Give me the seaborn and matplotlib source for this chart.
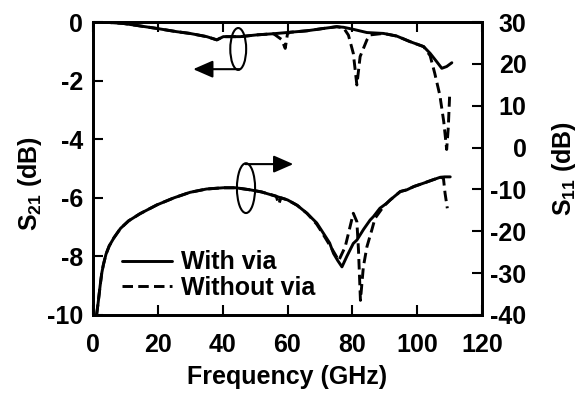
import numpy as np
import pandas as pd
import matplotlib
matplotlib.use("Agg")
import matplotlib.pyplot as plt
import seaborn as sns
from matplotlib.patches import Ellipse

# ---------------- data ----------------
# S21 with via (left axis, dB)
s21_via_f = [2.7, 9.4, 19.7, 25.8, 29.9, 35.1, 38.2, 40.2, 45.4, 50.5, 55.7, 60.8,
             66.0, 71.1, 75.2, 77.3, 80.3, 84.5, 89.6, 93.7, 97.8, 102.0, 104.0,
             106.0, 107.6, 109.1, 110.7]
s21_via_db = [0.0, -0.05, -0.22, -0.33, -0.39, -0.50, -0.61, -0.50, -0.50, -0.44, -0.40,
              -0.35, -0.30, -0.22, -0.16, -0.18, -0.25, -0.36, -0.39, -0.48, -0.67,
              -0.84, -1.07, -1.35, -1.58, -1.52, -1.39]

# S21 without via (left axis, dB)
s21_novia_f = [2.7, 9.4, 19.7, 25.8, 29.9, 35.1, 38.2, 40.2, 45.4, 50.5, 55.7, 58.2,
               59.3, 60.0, 60.8, 66.0, 71.1, 75.2, 77.3, 78.8, 80.3, 81.4, 82.4, 84.5,
               85.5, 89.6, 93.7, 97.8, 102.0, 104.0, 105.4, 107.0, 108.2, 109.1, 109.6,
               110.0]
s21_novia_db = [0.0, -0.05, -0.22, -0.33, -0.39, -0.50, -0.61, -0.50, -0.50, -0.44, -0.40,
                -0.60, -0.90, -0.40, -0.35, -0.30, -0.22, -0.16, -0.20, -0.45, -1.07,
                -2.15, -1.18, -0.61, -0.44, -0.39, -0.48, -0.67, -0.84, -1.15, -1.74,
                -2.50, -3.40, -4.35, -3.60, -2.55]

# S11 with via (right axis, dB)
s11_via_f = [1.1, 1.6, 2.2, 2.7, 3.2, 4.0, 5.0, 6.5, 8.5, 11.0, 14.5, 19.7, 25.0, 29.9,
             35.0, 40.2, 44.0, 48.5, 52.0, 56.7, 60.0, 63.0, 66.0, 69.0, 71.1, 73.0,
             74.2, 75.5, 76.8, 78.3, 80.3, 81.4, 83.5, 85.5, 86.5, 88.5, 90.6, 91.7,
             94.8, 96.8, 99.0, 102.0, 104.5, 107.1, 108.5, 110.2]
s11_via_db = [-40.0, -37.0, -33.0, -30.0, -28.0, -25.5, -23.5, -21.5, -19.3, -17.5, -15.8,
              -13.7, -12.0, -10.7, -9.9, -9.6, -9.6, -10.1, -10.6, -11.7, -12.5, -13.8,
              -15.7, -18.0, -20.5, -22.8, -25.3, -27.0, -28.5, -26.0, -22.9, -22.1,
              -19.5, -17.3, -16.5, -14.5, -13.3, -12.5, -10.5, -10.1, -9.3, -8.5, -7.8,
              -7.1, -7.0, -7.0]

# S11 without via (right axis, dB)
s11_novia_f = [1.1, 1.6, 2.2, 2.7, 3.2, 4.0, 5.0, 6.5, 8.5, 11.0, 14.5, 19.7, 25.0, 29.9,
               35.0, 40.2, 44.0, 48.5, 52.0, 56.5, 57.3, 58.0, 60.0, 63.0, 66.0, 69.0,
               70.0, 72.0, 74.7, 75.8, 77.8, 79.3, 80.3, 81.4, 81.9, 82.5, 83.4, 84.5,
               86.0, 87.0, 89.6, 90.6, 91.7, 94.8, 96.8, 99.0, 102.0, 104.5, 107.1,
               108.1, 108.6, 109.3]
s11_novia_db = [-40.0, -37.0, -33.0, -30.0, -28.0, -25.5, -23.5, -21.5, -19.3, -17.5, -15.8,
                -13.7, -12.0, -10.7, -9.9, -9.6, -9.6, -10.1, -10.6, -11.6, -13.5, -12.0,
                -12.5, -13.8, -15.7, -18.3, -19.5, -22.0, -25.5, -27.0, -23.7, -18.9,
                -15.7, -17.7, -24.5, -36.5, -28.5, -23.7, -19.7, -16.9, -14.1, -13.3,
                -12.5, -10.5, -10.1, -9.3, -8.5, -7.8, -7.1, -7.3, -10.9, -14.5]

legend_labels = ["With via", "Without via"]
x_ticks = [0, 20, 40, 60, 80, 100, 120]
left_ticks = [0, -2, -4, -6, -8, -10]
right_ticks = [30, 20, 10, 0, -10, -20, -30, -40]

# ---------------- style ----------------
sns.set_theme(style="ticks")
plt.rcParams["font.family"] = ["Liberation Sans", "DejaVu Sans"]
plt.rcParams["font.weight"] = "bold"
plt.rcParams["axes.labelweight"] = "bold"
plt.rcParams["font.size"] = 18
plt.rcParams["text.color"] = "black"
plt.rcParams["axes.labelcolor"] = "black"
plt.rcParams["xtick.color"] = "black"
plt.rcParams["ytick.color"] = "black"
plt.rcParams["axes.edgecolor"] = "black"
plt.rcParams["mathtext.fontset"] = "custom"
plt.rcParams["mathtext.rm"] = "Liberation Sans:bold"
plt.rcParams["mathtext.it"] = "Liberation Sans:bold"
plt.rcParams["mathtext.bf"] = "Liberation Sans:bold"
plt.rcParams["mathtext.default"] = "rm"

fig = plt.figure(figsize=(5.8, 3.94), dpi=100)
ax = fig.add_axes([93 / 580, 1 - 315 / 394, (482 - 93) / 580, (315 - 22) / 394])
ax2 = ax.twinx()

lw = 2.1
dash = (3.6, 1.8)

df_s21v = pd.DataFrame({"f": s21_via_f, "v": s21_via_db})
df_s21n = pd.DataFrame({"f": s21_novia_f, "v": s21_novia_db})
df_s11v = pd.DataFrame({"f": s11_via_f, "v": s11_via_db})
df_s11n = pd.DataFrame({"f": s11_novia_f, "v": s11_novia_db})

sns.lineplot(data=df_s21n, x="f", y="v", ax=ax, color="black", lw=lw,
             estimator=None, sort=False, legend=False)
ax.lines[-1].set_dashes(dash)
sns.lineplot(data=df_s21v, x="f", y="v", ax=ax, color="black", lw=lw,
             estimator=None, sort=False, legend=False)

sns.lineplot(data=df_s11n, x="f", y="v", ax=ax2, color="black", lw=lw,
             estimator=None, sort=False, legend=False)
l_novia = ax2.lines[-1]
l_novia.set_dashes(dash)
sns.lineplot(data=df_s11v, x="f", y="v", ax=ax2, color="black", lw=lw,
             estimator=None, sort=False, legend=False)
l_via = ax2.lines[-1]

ax.set_xlim(0, 120)
ax.set_ylim(-10, 0)
ax2.set_ylim(-40, 30)
ax.set_xticks(x_ticks)
ax.set_yticks(left_ticks)
ax2.set_yticks(right_ticks)
ax.set_xticklabels([str(t) for t in x_ticks])
ax.set_yticklabels([str(t) for t in left_ticks])
ax2.set_yticklabels([str(t) for t in right_ticks])

for a in (ax, ax2):
    for s in a.spines.values():
        s.set_linewidth(2.0)
        s.set_color("black")
ax.tick_params(axis="both", direction="in", length=7, width=1.5, colors="black",
               labelsize=18, top=True, right=False)
ax.tick_params(axis="x", pad=13)
ax.tick_params(axis="y", pad=7)
ax2.tick_params(axis="y", direction="in", length=7, width=1.5, colors="black",
                labelsize=18, pad=32)
for lab in ax2.get_yticklabels():
    lab.set_horizontalalignment("right")
for lab in ax.get_xticklabels() + ax.get_yticklabels() + ax2.get_yticklabels():
    lab.set_fontweight("bold")
    lab.set_color("black")

ax.set_xlabel("Frequency (GHz)", fontsize=18, fontweight="bold", color="black")
ax.set_ylabel(r"S$_{21}$ (dB)", fontsize=18, fontweight="bold", color="black")
ax2.set_ylabel(r"S$_{11}$ (dB)", fontsize=18, fontweight="bold", color="black")
ax.xaxis.set_label_coords(0.5, -0.17)
ax.yaxis.set_label_coords(-0.125, 0.45)
ax2.yaxis.set_label_coords(1.175, 0.5)

# annotation ellipses and arrows
ax.add_patch(Ellipse((44.8, -0.92), 4.9, 1.43, fill=False, lw=1.5, ec="black"))
ax.add_patch(Ellipse((47.2, -5.67), 5.6, 1.7, fill=False, lw=1.5, ec="black"))
ax.annotate("", xy=(30.9, -1.61), xytext=(45.2, -1.61),
            arrowprops=dict(arrowstyle="-|>,head_length=0.8,head_width=0.35",
                            mutation_scale=15, lw=1.5, color="black",
                            shrinkA=0, shrinkB=0))
ax.annotate("", xy=(61.8, -4.85), xytext=(47.0, -4.85),
            arrowprops=dict(arrowstyle="-|>,head_length=0.8,head_width=0.35",
                            mutation_scale=15, lw=1.5, color="black",
                            shrinkA=0, shrinkB=0))

leg = ax2.legend([l_via, l_novia], legend_labels, loc="center left",
                 bbox_to_anchor=(0.075, 0.1365), frameon=False, fontsize=18,
                 handlelength=2.0, handletextpad=0.35, labelspacing=0.05,
                 borderpad=0, borderaxespad=0)
for t in leg.get_texts():
    t.set_fontweight("bold")
    t.set_color("black")

fig.savefig("out.png", dpi=100)
